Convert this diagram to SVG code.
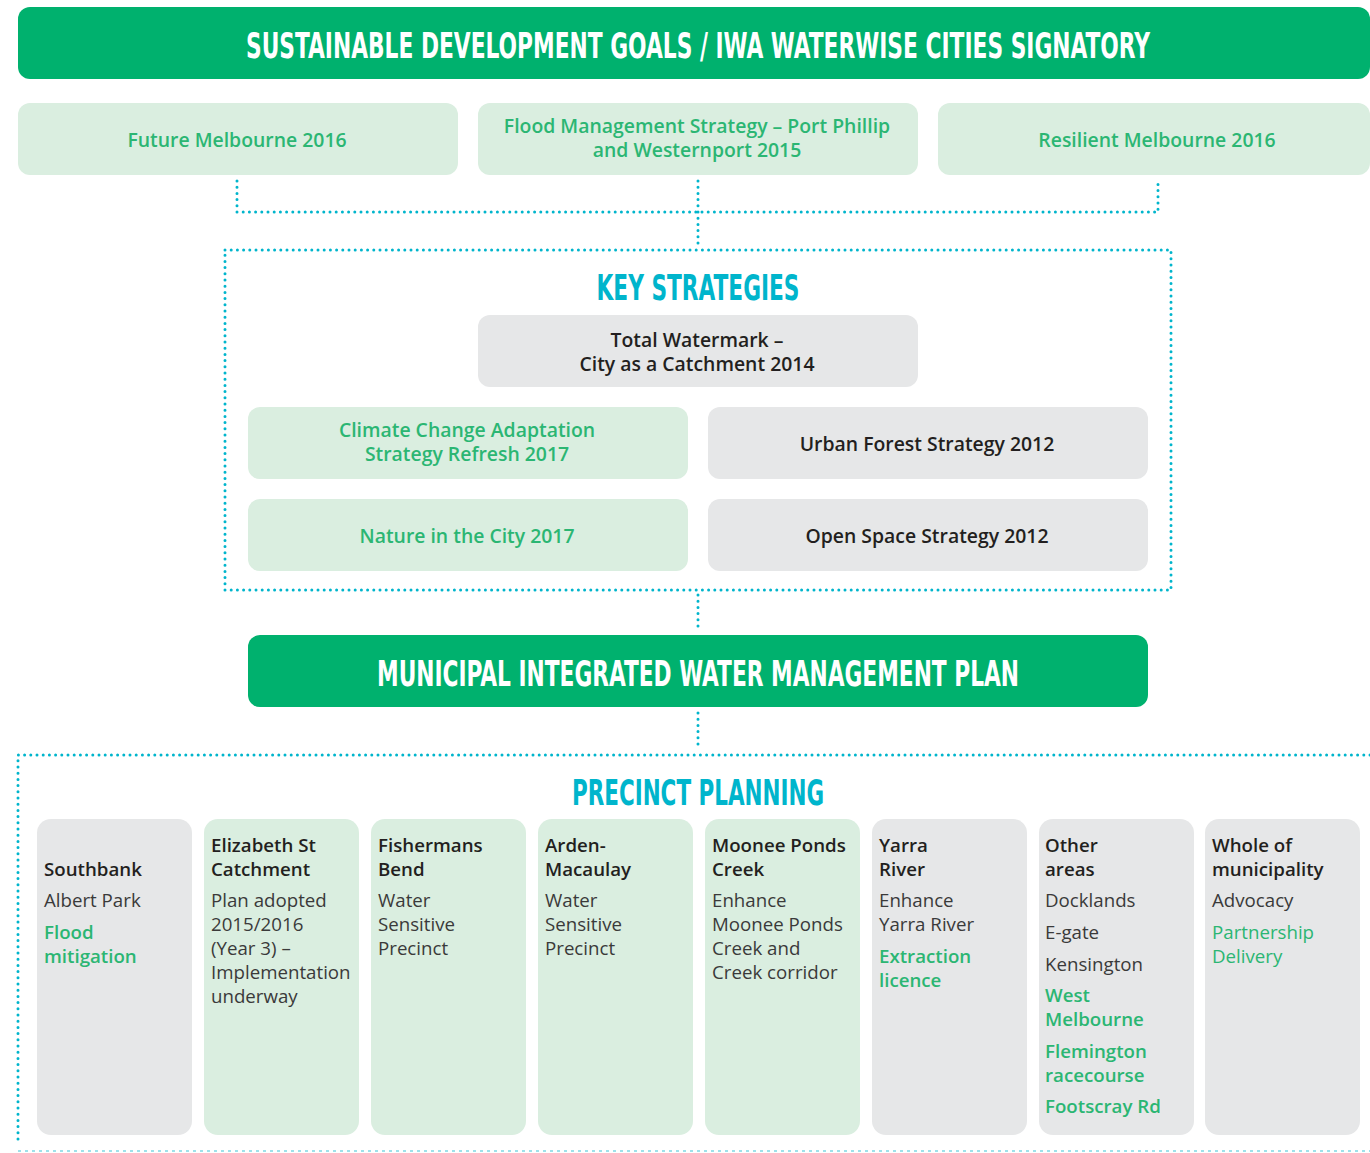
<svg xmlns="http://www.w3.org/2000/svg" width="1370" height="1153" viewBox="0 0 1370 1153">
<style>
.bg{fill:#ffffff}
.banner{fill:#00B16E}
.lg{fill:#DAEEE0}
.gy{fill:#E6E7E8}
.head{font-family:"DejaVu Sans Condensed","DejaVu Sans",sans-serif;font-weight:bold;font-size:36px;text-anchor:middle}
.wh{fill:#ffffff}
.cy{fill:#00B5CC}
.t{font-family:"Open Sans","Noto Sans",sans-serif;font-size:19.4px;text-anchor:middle}
.tg{fill:#2BB673;font-weight:600}
.td{fill:#231F20;font-weight:600}
.c{font-family:"Open Sans","Noto Sans",sans-serif;font-size:18.7px}
.ch{fill:#231F20;font-weight:600}
.cr{fill:#3a3a3a;font-weight:400}
.cgb{fill:#2BB673;font-weight:600}
.cg{fill:#2BB673;font-weight:400}
.dot{fill:none;stroke:#00B5CC;stroke-width:3;stroke-linecap:round;stroke-dasharray:0 6.2}
.dotl{fill:none;stroke:#7FD8E4;stroke-width:1.5;stroke-dasharray:3 4}
</style>
<rect class="bg" x="0" y="0" width="1370" height="1153"/>

<g id="connectors">
<path class="dot" d="M237 181 V212 H1158 V181"/>
<path class="dot" d="M698 181 V245"/>
<rect class="dot" x="225" y="250" width="946" height="340"/>
<path class="dot" d="M698 595 V630"/>
<path class="dot" d="M698 713 V748"/>
<path class="dot" d="M1370 755 H18 V1144"/>
<path class="dotl" d="M18 1151 H1370"/>
</g>

<g id="sdg">
<rect class="banner" x="18" y="7" width="1352" height="72" rx="12"/>
<text class="head wh" x="698" y="58" textLength="904" lengthAdjust="spacingAndGlyphs">SUSTAINABLE DEVELOPMENT GOALS / IWA WATERWISE CITIES SIGNATORY</text>
</g>

<g id="future-melbourne">
<rect class="lg" x="18" y="103" width="440" height="72" rx="12"/>
<text class="t tg" x="237" y="147">Future Melbourne 2016</text>
</g>
<g id="flood-management">
<rect class="lg" x="478" y="103" width="440" height="72" rx="12"/>
<text class="t tg" x="697" y="133">Flood Management Strategy – Port Phillip</text>
<text class="t tg" x="697" y="157">and Westernport 2015</text>
</g>
<g id="resilient-melbourne">
<rect class="lg" x="938" y="103" width="432" height="72" rx="12"/>
<text class="t tg" x="1157" y="147">Resilient Melbourne 2016</text>
</g>

<g id="key-strategies">
<text class="head cy" x="698" y="300" textLength="203" lengthAdjust="spacingAndGlyphs">KEY STRATEGIES</text>
</g>
<g id="total-watermark">
<rect class="gy" x="478" y="315" width="440" height="72" rx="12"/>
<text class="t td" x="697" y="347">Total Watermark –</text>
<text class="t td" x="697" y="371">City as a Catchment 2014</text>
</g>
<g id="climate-change">
<rect class="lg" x="248" y="407" width="440" height="72" rx="12"/>
<text class="t tg" x="467" y="437">Climate Change Adaptation</text>
<text class="t tg" x="467" y="461">Strategy Refresh 2017</text>
</g>
<g id="urban-forest">
<rect class="gy" x="708" y="407" width="440" height="72" rx="12"/>
<text class="t td" x="927" y="451">Urban Forest Strategy 2012</text>
</g>
<g id="nature-city">
<rect class="lg" x="248" y="499" width="440" height="72" rx="12"/>
<text class="t tg" x="467" y="543">Nature in the City 2017</text>
</g>
<g id="open-space">
<rect class="gy" x="708" y="499" width="440" height="72" rx="12"/>
<text class="t td" x="927" y="543">Open Space Strategy 2012</text>
</g>

<g id="miwmp">
<rect class="banner" x="248" y="635" width="900" height="72" rx="12"/>
<text class="head wh" x="698" y="686" textLength="642" lengthAdjust="spacingAndGlyphs">MUNICIPAL INTEGRATED WATER MANAGEMENT PLAN</text>
</g>

<g id="precinct-planning">
<text class="head cy" x="698" y="805" textLength="252" lengthAdjust="spacingAndGlyphs">PRECINCT PLANNING</text>
</g>

<g id="southbank">
<rect class="gy" x="37" y="819" width="155" height="316" rx="14"/>
<text class="c ch" x="44" y="876">Southbank</text>
<text class="c cr" x="44" y="907">Albert Park</text>
<text class="c cgb" x="44" y="939">Flood</text>
<text class="c cgb" x="44" y="963">mitigation</text>
</g>
<g id="elizabeth-st">
<rect class="lg" x="204" y="819" width="155" height="316" rx="14"/>
<text class="c ch" x="211" y="852">Elizabeth St</text>
<text class="c ch" x="211" y="876">Catchment</text>
<text class="c cr" x="211" y="907">Plan adopted</text>
<text class="c cr" x="211" y="931">2015/2016</text>
<text class="c cr" x="211" y="955">(Year 3) –</text>
<text class="c cr" x="211" y="979">Implementation</text>
<text class="c cr" x="211" y="1003">underway</text>
</g>
<g id="fishermans-bend">
<rect class="lg" x="371" y="819" width="155" height="316" rx="14"/>
<text class="c ch" x="378" y="852">Fishermans</text>
<text class="c ch" x="378" y="876">Bend</text>
<text class="c cr" x="378" y="907">Water</text>
<text class="c cr" x="378" y="931">Sensitive</text>
<text class="c cr" x="378" y="955">Precinct</text>
</g>
<g id="arden-macaulay">
<rect class="lg" x="538" y="819" width="155" height="316" rx="14"/>
<text class="c ch" x="545" y="852">Arden-</text>
<text class="c ch" x="545" y="876">Macaulay</text>
<text class="c cr" x="545" y="907">Water</text>
<text class="c cr" x="545" y="931">Sensitive</text>
<text class="c cr" x="545" y="955">Precinct</text>
</g>
<g id="moonee-ponds">
<rect class="lg" x="705" y="819" width="155" height="316" rx="14"/>
<text class="c ch" x="712" y="852">Moonee Ponds</text>
<text class="c ch" x="712" y="876">Creek</text>
<text class="c cr" x="712" y="907">Enhance</text>
<text class="c cr" x="712" y="931">Moonee Ponds</text>
<text class="c cr" x="712" y="955">Creek and</text>
<text class="c cr" x="712" y="979">Creek corridor</text>
</g>
<g id="yarra-river">
<rect class="gy" x="872" y="819" width="155" height="316" rx="14"/>
<text class="c ch" x="879" y="852">Yarra</text>
<text class="c ch" x="879" y="876">River</text>
<text class="c cr" x="879" y="907">Enhance</text>
<text class="c cr" x="879" y="931">Yarra River</text>
<text class="c cgb" x="879" y="963">Extraction</text>
<text class="c cgb" x="879" y="987">licence</text>
</g>
<g id="other-areas">
<rect class="gy" x="1039" y="819" width="155" height="316" rx="14"/>
<text class="c ch" x="1045" y="852">Other</text>
<text class="c ch" x="1045" y="876">areas</text>
<text class="c cr" x="1045" y="907">Docklands</text>
<text class="c cr" x="1045" y="939">E-gate</text>
<text class="c cr" x="1045" y="971">Kensington</text>
<text class="c cgb" x="1045" y="1002">West</text>
<text class="c cgb" x="1045" y="1026">Melbourne</text>
<text class="c cgb" x="1045" y="1058">Flemington</text>
<text class="c cgb" x="1045" y="1082">racecourse</text>
<text class="c cgb" x="1045" y="1113">Footscray Rd</text>
</g>
<g id="whole-municipality">
<rect class="gy" x="1205" y="819" width="155" height="316" rx="14"/>
<text class="c ch" x="1212" y="852">Whole of</text>
<text class="c ch" x="1212" y="876">municipality</text>
<text class="c cr" x="1212" y="907">Advocacy</text>
<text class="c cg" x="1212" y="939">Partnership</text>
<text class="c cg" x="1212" y="963">Delivery</text>
</g>
</svg>
